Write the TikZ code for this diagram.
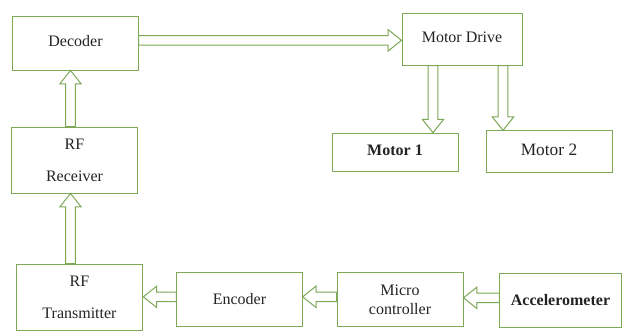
\documentclass[tikz,border=0pt]{standalone}
\usepackage{fontspec}
\setmainfont{Liberation Serif}
\usetikzlibrary{calc}
\definecolor{boxgreen}{RGB}{125,168,85}
\definecolor{txtgray}{RGB}{35,35,35}

\begin{document}
\begin{tikzpicture}[x=0.75pt, y=-0.75pt,
  every node/.style={rectangle, draw=boxgreen, line width=0.75pt, inner sep=0pt, align=center, text=txtgray, font=\fontsize{12}{14.5}\selectfont},
  blockarrow/.style={draw=boxgreen, line width=0.75pt, fill=white,
    to path={($(\tikztostart)!3.6pt!-90:(\tikztotarget)$) -- ($(\tikztotarget)!10.63pt!19.8:(\tikztostart)$) -- ($(\tikztotarget)!12.81pt!38.66:(\tikztostart)$) -- (\tikztotarget) -- ($(\tikztotarget)!12.81pt!-38.66:(\tikztostart)$) -- ($(\tikztotarget)!10.63pt!-19.8:(\tikztostart)$) -- ($(\tikztostart)!3.6pt!90:(\tikztotarget)$) -- cycle}}]
  \useasboundingbox (0,0) rectangle (622,332);

  \node[minimum width=94pt, minimum height=40.5pt] (dec) at (75.5,43) {\raisebox{2.5pt}{Decoder}};
  \node[minimum width=90pt, minimum height=39pt] (drv) at (462,39) {\raisebox{3pt}{Motor Drive}};
  \node[minimum width=94.5pt, minimum height=29pt, font=\fontsize{12}{14.5}\selectfont\bfseries] (m1) at (395,152.5) {\raisebox{3pt}{Motor 1}};
  \node[minimum width=94.5pt, minimum height=31pt, font=\fontsize{13}{15.5}\selectfont] (m2) at (549,151.5) {\raisebox{3pt}{Motor 2}};
  \node[minimum width=94pt, minimum height=49.5pt] (rec) at (74.5,160) {RF\\[9.5pt]Receiver};
  \node[minimum width=95pt, minimum height=50pt] (tra) at (79.5,297.5) {RF\\[10pt]Transmitter};
  \node[minimum width=94pt, minimum height=41pt] (enc) at (239.5,299.5) {Encoder};
  \node[minimum width=94.5pt, minimum height=41pt] (mic) at (400,299.5) {Micro\\controller};
  \node[minimum width=91pt, minimum height=40pt, font=\fontsize{12}{14.5}\selectfont\bfseries] (acc) at (560.5,300.5) {Accelerometer};

  \draw[blockarrow] ([yshift=2pt]dec.east) to ([yshift=2pt]dec.east -| drv.west);
  \draw[blockarrow] ([xshift=-3pt]rec.north) to ([xshift=-3pt]rec.north |- dec.south);
  \draw[blockarrow] ([xshift=-3pt]rec.south |- tra.north) to ([xshift=-3pt]rec.south);
  \draw[blockarrow] ([xshift=-21.75pt]drv.south) to ([xshift=-21.75pt]drv.south |- m1.north);
  \draw[blockarrow] ([xshift=30.75pt]drv.south) to ([xshift=30.75pt]drv.south |- m2.north);
  \draw[blockarrow] ([yshift=2pt]enc.west) to ([yshift=2pt]enc.west -| tra.east);
  \draw[blockarrow] ([yshift=2pt]mic.west) to ([yshift=2pt]mic.west -| enc.east);
  \draw[blockarrow] ([yshift=2pt]acc.west) to ([yshift=2pt]acc.west -| mic.east);
\end{tikzpicture}
\end{document}
